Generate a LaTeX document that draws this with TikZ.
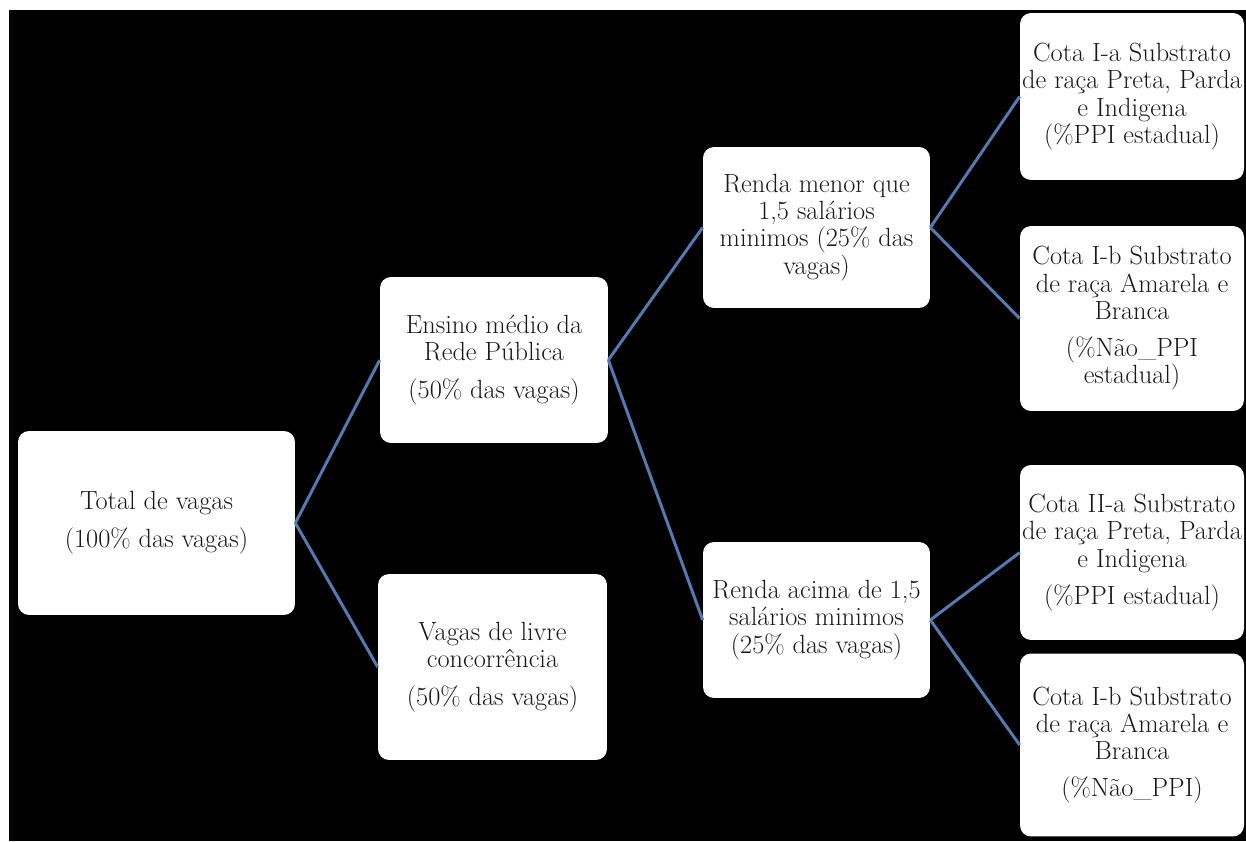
\documentclass[tikz,border=0pt]{standalone}
\definecolor{linkblue}{RGB}{84,122,178}
\definecolor{inkgray}{RGB}{25,25,25}

\begin{document}
\begin{tikzpicture}[x=0.02cm,y=-0.02cm,
    every node/.style={rectangle,rounded corners=0.22cm,fill=white,align=center,
      inner sep=0pt,text=inkgray,font=\fontsize{15}{15.5}\selectfont}]
    \useasboundingbox (0,0) rectangle (1246,841);
    \fill[black] (9,10) rectangle (1246,841);

    \node[minimum width=5.54cm,minimum height=3.68cm] (total) at (156.5,523)
      {Total de vagas\\[0.22cm](100\% das vagas)};
    \node[minimum width=4.56cm,minimum height=3.32cm] (ensino) at (494,360)
      {Ensino médio da\\Rede Pública\\[0.2cm](50\% das vagas)};
    \node[minimum width=4.58cm,minimum height=3.72cm] (livre) at (492.5,667)
      {Vagas de livre\\concorrência\\[0.2cm](50\% das vagas)};
    \node[minimum width=4.54cm,minimum height=3.22cm] (rmenor) at (816.5,227.5)
      {Renda menor que\\1,5 salários\\minimos (25\% das\\vagas)};
    \node[minimum width=4.54cm,minimum height=3.12cm] (racima) at (816.5,620)
      {Renda acima de 1,5\\salários minimos\\(25\% das vagas)};
    \node[minimum width=4.48cm,minimum height=3.34cm] (cIa) at (1132,96.5)
      {Cota I-a Substrato\\de raça Preta, Parda\\e Indigena\\(\%PPI estadual)};
    \node[minimum width=4.48cm,minimum height=3.7cm] (cIb) at (1132,318.5)
      {Cota I-b Substrato\\de raça Amarela e\\Branca\\[0.2cm](\%Não\_PPI\\estadual)};
    \node[minimum width=4.48cm,minimum height=3.5cm] (cIIa) at (1132,552.5)
      {Cota II-a Substrato\\de raça Preta, Parda\\e Indigena\\[0.2cm](\%PPI estadual)};
    \node[minimum width=4.48cm,minimum height=3.66cm] (cIbb) at (1132,745)
      {Cota I-b Substrato\\de raça Amarela e\\Branca\\[0.2cm](\%Não\_PPI)};

    \path[-] (total.east) edge[draw=linkblue,line width=1.7pt] (ensino.west);
    \path[-] (total.east) edge[draw=linkblue,line width=1.7pt] (livre.west);
    \path[-] (ensino.east) edge[draw=linkblue,line width=1.7pt] (rmenor.west);
    \path[-] (ensino.east) edge[draw=linkblue,line width=1.7pt] (racima.west);
    \path[-] (rmenor.east) edge[draw=linkblue,line width=1.7pt] (cIa.west);
    \path[-] (rmenor.east) edge[draw=linkblue,line width=1.7pt] (cIb.west);
    \path[-] (racima.east) edge[draw=linkblue,line width=1.7pt] (cIIa.west);
    \path[-] (racima.east) edge[draw=linkblue,line width=1.7pt] (cIbb.west);
  \end{tikzpicture}
\end{document}
